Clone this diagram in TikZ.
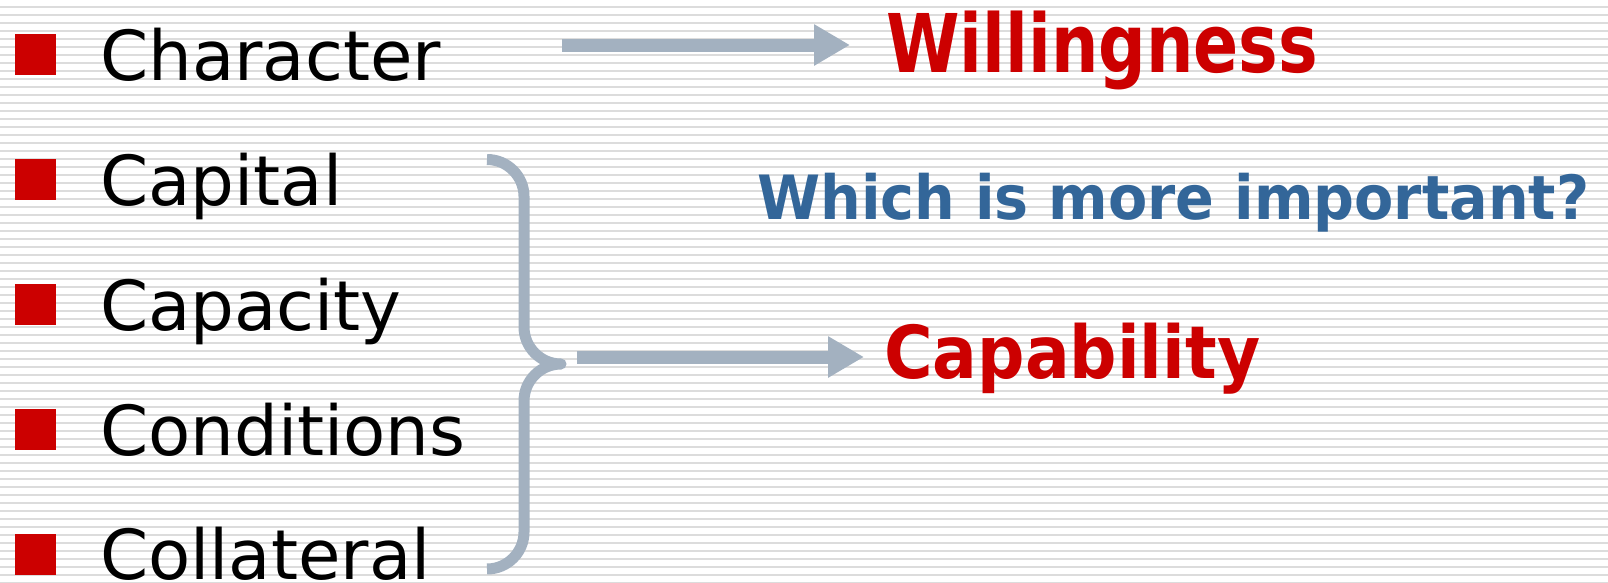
\documentclass[tikz,border=0pt]{standalone}
\usepackage{fontspec}
\setmainfont{DejaVu Sans}
\usetikzlibrary{arrows.meta}

\definecolor{bulletred}{RGB}{204,0,0}
\definecolor{linkgray}{RGB}{163,177,192}
\definecolor{askblue}{RGB}{51,102,153}
\definecolor{stripegray}{RGB}{220,220,220}

\begin{document}
\begin{tikzpicture}[x=1pt,y=-1pt,
  bullet/.style={fill=bulletred, draw=none, minimum size=41pt, inner sep=0pt},
  item/.style={anchor=base west, inner sep=0pt, text depth=0pt, font=\fontsize{69pt}{80pt}\selectfont},
  outcome/.style={anchor=base west, inner sep=0pt, text=bulletred, font=\bfseries},
  question/.style={anchor=base west, inner sep=0pt, text=askblue, font=\bfseries},
  link/.style={draw=linkgray, line width=13pt, -{Triangle[length=36pt,width=39pt]}},
  bracestroke/.style={draw=linkgray, line width=11pt, line cap=butt, line join=round},
]
\useasboundingbox (0,0) rectangle (1608,582);

% striped paper background
\fill[white] (0,0) rectangle (1608,582);
\foreach \k in {0,...,72}
  \fill[stripegray] (0,6+8*\k) rectangle (1608,8+8*\k);

% the five C's
\node[bullet] (b1) at (35.5,54.5) {};
\node[bullet] (b2) at (35.5,179.5) {};
\node[bullet] (b3) at (35.5,304.5) {};
\node[bullet] (b4) at (35.5,429.5) {};
\node[bullet] (b5) at (35.5,554.5) {};

\node[item] (character) at (100,80) {Character};
\node[item] (capital) at (100,205) {Capital};
\node[item] (capacity) at (100,330) {Capacity};
\node[item] (conditions) at (100,455) {Conditions};
\node[item] (collateral) at (100,579) {Collateral};

% outcomes
\node[outcome] (willing) at (886,72)
  {\resizebox{432pt}{\height}{\fontsize{81pt}{90pt}\selectfont Willingness}};
\node[question] (ask) at (757,219)
  {\resizebox{832pt}{\height}{\fontsize{61pt}{70pt}\selectfont Which is more important?}};
\node[outcome] (capable) at (884,378)
  {\resizebox{376pt}{\height}{\fontsize{73pt}{80pt}\selectfont Capability}};

% character -> willingness
\coordinate (wfrom) at (562,45);
\coordinate (wto) at (850,45);
\draw[link] (wfrom) -- (wto);

% brace grouping capital .. collateral
\coordinate (btip) at (561,364);
\draw[bracestroke]
  (487,159.5) .. controls (507.4,159.5) and (524,176.1) .. (524,196.5)
  -- (524,327) .. controls (524,347.4) and (540.6,364) .. (btip)
  .. controls (540.6,364) and (524,380.6) .. (524,401)
  -- (524,532) .. controls (524,552.4) and (507.4,569) .. (487,569);

% brace -> capability
\coordinate (cfrom) at (577,357);
\coordinate (cto) at (864,357);
\draw[link] (cfrom) -- (cto);
\end{tikzpicture}
\end{document}
